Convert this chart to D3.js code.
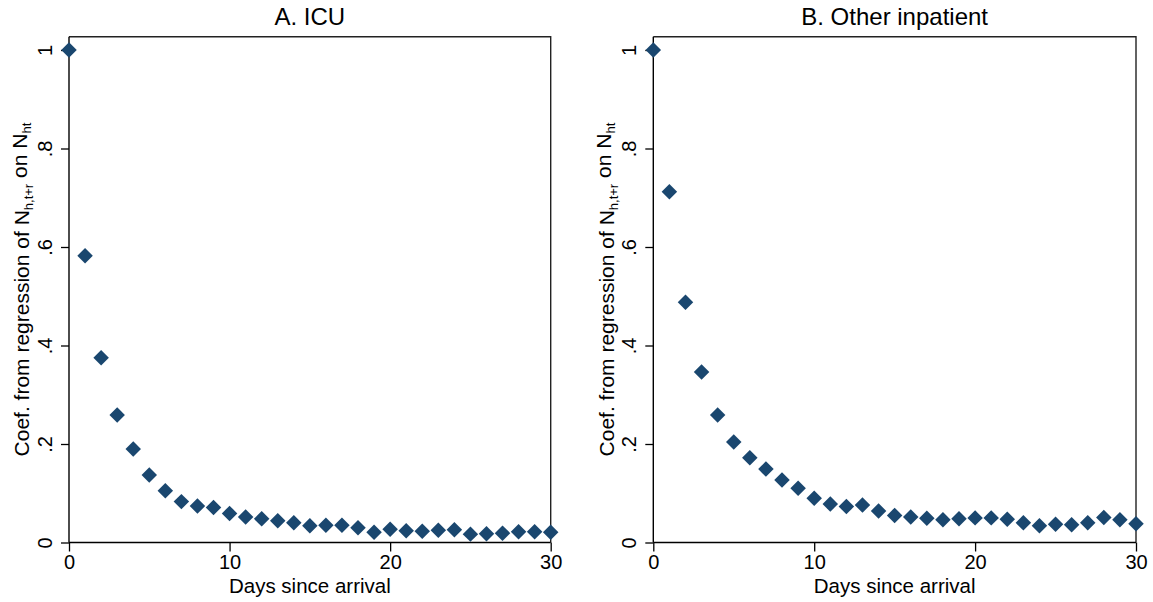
<!DOCTYPE html>
<html>
<head>
<meta charset="utf-8">
<script src="https://cdn.jsdelivr.net/npm/d3@7"></script>
<style>
  body { margin: 0; background: #fff; }
  svg text { font-family: "Liberation Sans", Arial, Helvetica, sans-serif; fill: #000; }
</style>
</head>
<body>
<div id="chart"></div>
<script>
// days since arrival (x values)
var days = [0, 1, 2, 3, 4, 5, 6, 7, 8, 9, 10, 11, 12, 13, 14, 15,
            16, 17, 18, 19, 20, 21, 22, 23, 24, 25, 26, 27, 28, 29, 30];

// panel A: ICU
var icuCoef = [1.000, 0.582, 0.375, 0.259, 0.190, 0.137, 0.105, 0.083, 0.074, 0.071, 0.059,
               0.052, 0.048, 0.044, 0.040, 0.034, 0.035, 0.035, 0.030, 0.021, 0.027,
               0.024, 0.023, 0.025, 0.026, 0.017, 0.018, 0.019, 0.022, 0.022, 0.021];

// panel B: other inpatient
var otherCoef = [1.000, 0.712, 0.488, 0.346, 0.259, 0.204, 0.172, 0.149, 0.127, 0.110, 0.090,
                 0.078, 0.073, 0.076, 0.064, 0.055, 0.052, 0.049, 0.046, 0.048, 0.050,
                 0.050, 0.047, 0.040, 0.034, 0.037, 0.036, 0.040, 0.051, 0.046, 0.038];

var panelTitles = ["A. ICU", "B. Other inpatient"];
var xTicks = [0, 10, 20, 30];
var yTicks = [0, 0.2, 0.4, 0.6, 0.8, 1];
var xTitle = "Days since arrival";

var WIDTH = 1153, HEIGHT = 602;
var TOP = 36.7, BOTTOM = 542.5;
var navy = "#1a476f";

var svg = d3.select("#chart").append("svg")
    .attr("width", WIDTH).attr("height", HEIGHT);

function fmtY(d) {
  if (d === 0) return "0";
  if (d === 1) return "1";
  return d3.format(".1f")(d).replace(/^0/, "");
}

function drawPanel(left, right, title, values) {
  var xScale = d3.scaleLinear().domain([0, 30]).range([left, right]);
  var yScale = d3.scaleLinear().domain([0, 1]).range([BOTTOM, BOTTOM - 492.5]);
  var g = svg.append("g");

  // plot frame (top and right)
  g.append("path")
    .attr("d", "M" + left + "," + TOP + "H" + right + "V" + BOTTOM)
    .attr("fill", "none").attr("stroke", "#222").attr("stroke-width", 1.4);

  var xAxis = d3.axisBottom(xScale).tickValues(xTicks).tickSize(9).tickPadding(3)
      .tickFormat(d3.format("d"));
  var gX = g.append("g").attr("transform", "translate(0," + BOTTOM + ")").call(xAxis);
  gX.select(".domain").attr("stroke", "#000").attr("stroke-width", 1.4)
    .attr("d", "M" + left + ",0H" + right);
  gX.selectAll(".tick line").attr("stroke", "#000").attr("stroke-width", 1.3);
  gX.selectAll("text").style("font-size", "20px").attr("dy", "0.74em");

  var yAxis = d3.axisLeft(yScale).tickValues(yTicks).tickSize(8).tickFormat(fmtY);
  var gY = g.append("g").attr("transform", "translate(" + left + ",0)").call(yAxis);
  gY.select(".domain").attr("stroke", "#000").attr("stroke-width", 1.4)
    .attr("d", "M0," + TOP + "V" + BOTTOM);
  gY.selectAll(".tick line").attr("stroke", "#000").attr("stroke-width", 1.3);
  gY.selectAll("text").style("font-size", "20px")
    .attr("x", 0).attr("dy", "0.35em")
    .attr("text-anchor", "middle")
    .attr("transform", "translate(-24,0) rotate(-90)");

  // titles
  var cx = (left + right) / 2, cy = (TOP + BOTTOM) / 2;
  g.append("text").attr("x", cx).attr("y", 25).attr("text-anchor", "middle")
    .style("font-size", "24px").text(title);
  g.append("text").attr("x", cx).attr("y", 593).attr("text-anchor", "middle")
    .style("font-size", "20.5px").text(xTitle);

  var yl = g.append("text").attr("text-anchor", "middle")
    .attr("transform", "translate(" + (left - 47) + "," + cy + ") rotate(-90)")
    .attr("dy", "0.35em").style("font-size", "21px");
  yl.append("tspan").text("Coef. from regression of N");
  yl.append("tspan").attr("dy", "0.3em").style("font-size", "13px").text("h,t+r");
  yl.append("tspan").attr("dy", "-0.3em").text(" on N");
  yl.append("tspan").attr("dy", "0.3em").style("font-size", "13px").text("ht");

  // markers
  var diamond = d3.symbol().type(d3.symbolSquare).size(120);
  g.append("g").selectAll("path").data(values).enter().append("path")
    .attr("d", diamond)
    .attr("fill", navy)
    .attr("transform", function(d, i) {
      return "translate(" + xScale(days[i]) + "," + yScale(d) + ") rotate(45)";
    });
}

drawPanel(69, 550.7, panelTitles[0], icuCoef);
drawPanel(653.3, 1136, panelTitles[1], otherCoef);
</script>
</body>
</html>
